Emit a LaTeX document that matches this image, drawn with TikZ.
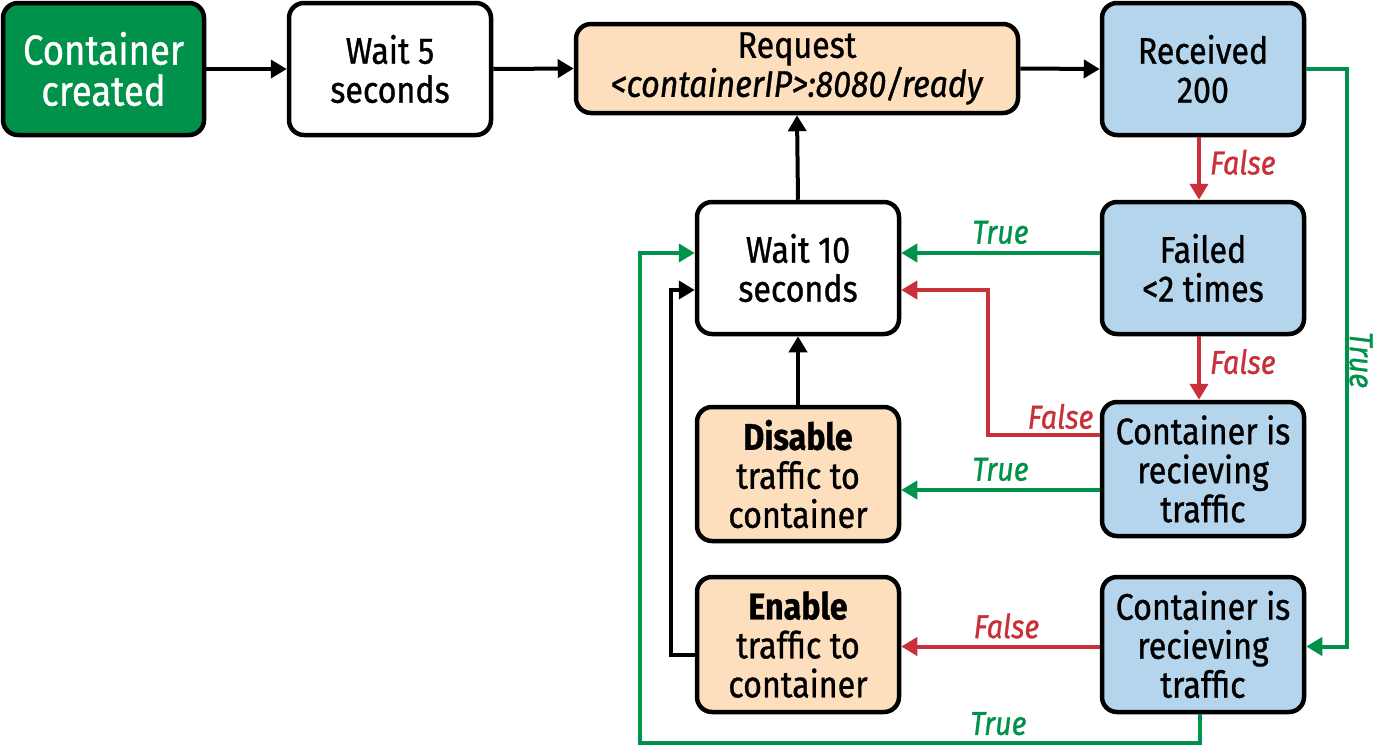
\documentclass[tikz,border=0pt]{standalone}
\usepackage{fontspec}
\setmainfont{Fira Sans}[FakeStretch=0.87,FakeBold=0.9]
\usetikzlibrary{arrows.meta,positioning,calc}
\definecolor{cgreen}{HTML}{00914A}
\definecolor{cred}{HTML}{C8313A}
\definecolor{cblue}{HTML}{B4D5EC}
\definecolor{cpeach}{HTML}{FDDFBD}
\tikzset{
  box/.style={draw=black, line width=4.5pt, rounded corners=15pt, minimum width=202pt, minimum height=132pt, align=center, inner sep=0pt, font=\fontsize{37}{39}\selectfont},
  conn/.style={line width=4pt, -{Triangle[length=16pt,width=18pt]}},
  gconn/.style={conn, draw=cgreen, -{Triangle[length=16pt,width=18pt,fill=cgreen]}},
  rconn/.style={conn, draw=cred, -{Triangle[length=16pt,width=18pt,fill=cred]}},
  lbl/.style={font=\fontsize{33}{35}\selectfont\itshape, inner sep=3pt},
}
\begin{document}
\begin{tikzpicture}[x=1pt,y=-1pt]
\useasboundingbox (0,0) rectangle (1387,745);
\node[box, fill=cgreen, text=white, minimum width=201pt, font=\fontsize{42}{41}\selectfont] (cc) at (103.5,69) {Container\\created};
\node[box, fill=white] (w5) at (390,69) {Wait 5\\seconds};
\node[box, fill=cpeach, minimum width=442pt, minimum height=89pt] (req) at (797,68.5) {Request\\\textit{<containerIP>:8080/ready}};
\node[box, fill=cblue] (rec) at (1203,69) {Received\\200};
\node[box, fill=white] (w10) at (798,268) {Wait 10\\seconds};
\node[box, fill=cblue] (fail) at (1203,268) {Failed\\<2 times};
\node[box, fill=cblue, minimum height=134pt] (cr1) at (1203,469) {Container is\\recieving\\traffic};
\node[box, fill=cpeach, minimum height=134pt] (dis) at (798,474) {\textbf{Disable}\\traffic to\\container};
\node[box, fill=cpeach, minimum height=135pt] (en) at (798,644.5) {\textbf{Enable}\\traffic to\\container};
\node[box, fill=cblue, minimum height=135pt] (cr2) at (1203,644.5) {Container is\\recieving\\traffic};

\draw[conn] (cc.east) -- (w5.west);
\draw[conn] (w5.east) -- (req.west);
\draw[conn] (req.east) -- (rec.west);
\draw[conn] (w10.north) -- (req.south);
\draw[conn] (dis.north) -- (w10.south);
\draw[conn] ([yshift=-10pt]en.west) -- ++(-24,0) |- ([yshift=-22pt]w10.west);

\draw[rconn] ([xshift=-4pt]rec.south) -- node[lbl, right=6pt, text=cred, pos=0.4] {False} ([xshift=-4pt]fail.north);
\draw[rconn] ([xshift=-4pt]fail.south) -- node[lbl, right=6pt, text=cred, pos=0.4] {False} ([xshift=-4pt]cr1.north);
\draw[rconn] ([yshift=34pt]cr1.west) -- node[lbl, above=1pt, text=cred, pos=0.35] {False} ++(-112,0) |- ([yshift=-22pt]w10.east);
\draw[rconn] ([yshift=-2pt]cr2.west) -- node[lbl, above=3pt, text=cred, pos=0.47] {False} ([yshift=-2pt]cr2.west -| en.east);

\draw[gconn] ([yshift=15pt]fail.west) -- node[lbl, above=4pt, text=cgreen, pos=0.5] {True} ([yshift=15pt]w10.east);
\draw[gconn] ([yshift=-21pt]cr1.west) -- node[lbl, above=4pt, text=cgreen, pos=0.5] {True} ([yshift=-21pt]cr1.west -| dis.east);
\draw[gconn] (rec.east) -- ++(41,0) |- ([yshift=-2pt]cr2.east);
\node[lbl, text=cgreen, rotate=-90] (tlab) at (1361,360) {True};
\draw[gconn] ([xshift=-3pt]cr2.south) -- ++(0,29) -- node[lbl, above=5pt, text=cgreen, pos=0.36, inner sep=1pt] {True} ++(-560,0) |- ([yshift=15pt]w10.west);
\end{tikzpicture}
\end{document}
